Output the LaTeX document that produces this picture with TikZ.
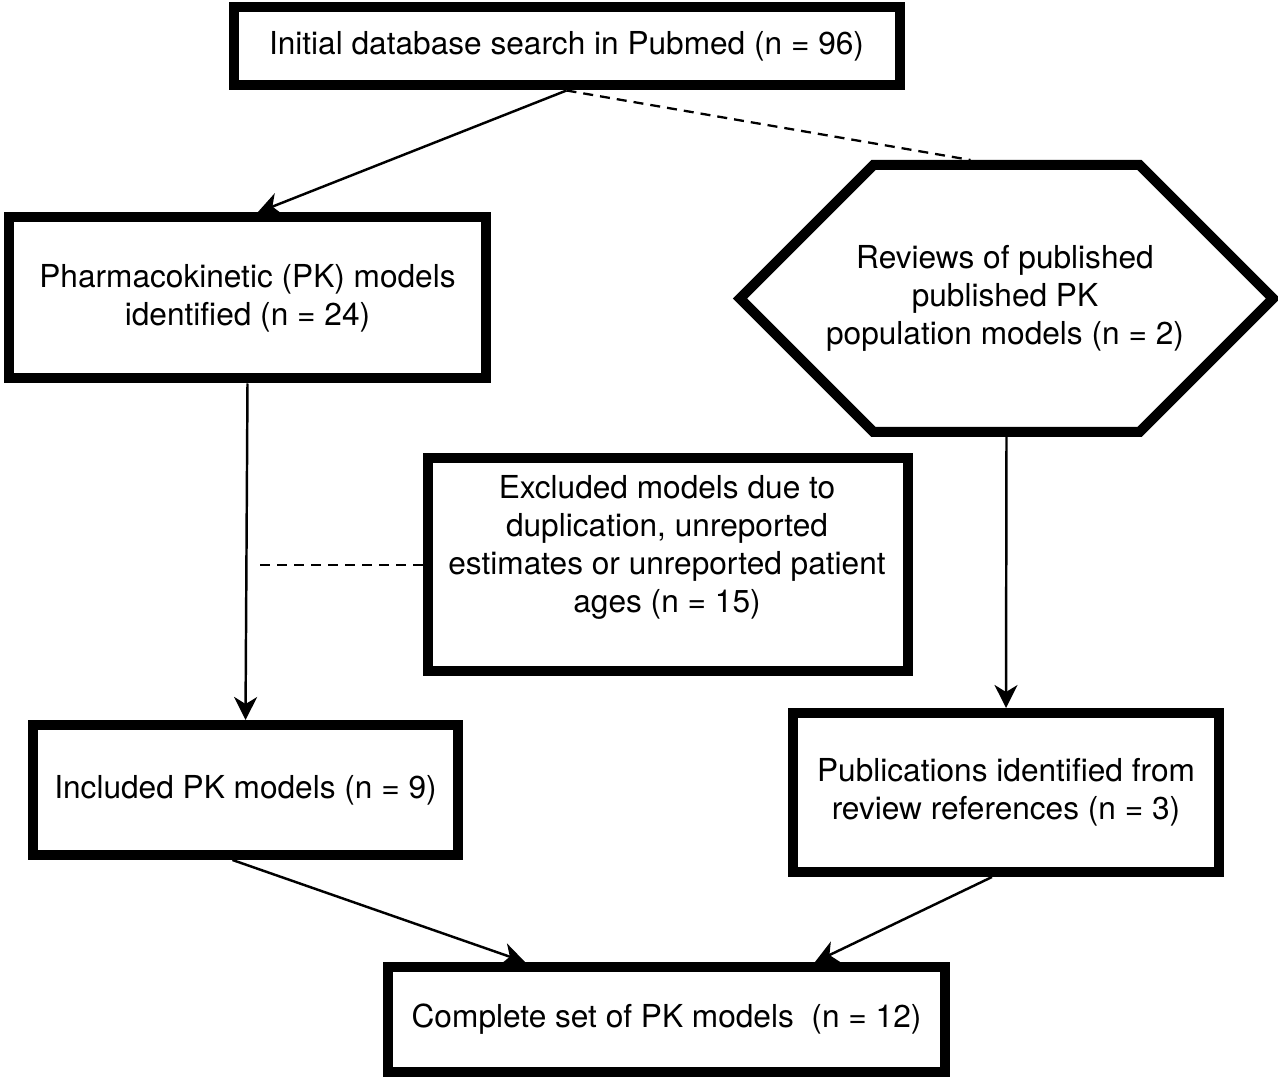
\documentclass[tikz,border=0pt]{standalone}
\usepackage{fontspec}
\setmainfont{TeX Gyre Heros}
\usepackage{tikz}
\usetikzlibrary{arrows.meta,shapes.symbols}

\begin{document}
\begin{tikzpicture}[
  box/.style={rectangle, draw, line width=0.2cm, inner sep=0pt, font=\fontsize{18}{21.6}\selectfont, align=center},
  hexa/.style={signal, signal to=west and east, signal pointer angle=90, draw, line width=0.2cm, inner sep=0pt},
  txt/.style={font=\fontsize{18}{21.6}\selectfont, align=center, inner sep=0pt},
  arr/.style={-{Stealth[length=0.46cm, width=0.46cm, inset=0.14cm]}, line width=1.4pt},
  dashline/.style={dash pattern=on 0.2cm off 0.14cm, line width=1.3pt}
]
\useasboundingbox (0,0) rectangle (25.56,-21.6);
\node[box, minimum width=13.32cm, minimum height=1.56cm] (top) at (11.33,-0.93) {Initial database search in Pubmed (n = 96)};
\node[box, minimum width=9.52cm, minimum height=3.22cm] (pk) at (4.95,-5.96) {Pharmacokinetic (PK) models\\identified (n = 24)};
\node[hexa, minimum width=10.66cm, minimum height=5.34cm] (rev) at (20.13,-5.97) {};
\node[txt] (revtext) at (20.10,-5.97) {Reviews of published\\published PK\\population models (n = 2)};
\node[box, minimum width=9.6cm, minimum height=4.26cm] (exc) at (13.35,-11.30) {};
\node[txt] (exctext) at (13.34,-10.94) {Excluded models due to\\duplication, unreported\\estimates or unreported patient\\ages (n = 15)};
\node[box, minimum width=8.5cm, minimum height=2.6cm] (inc) at (4.91,-15.80) {Included PK models (n = 9)};
\node[box, minimum width=8.52cm, minimum height=3.18cm] (pub) at (20.12,-15.85) {Publications identified from\\review references (n = 3)};
\node[box, minimum width=11.14cm, minimum height=2.1cm] (all) at (13.33,-20.39) {Complete set of PK models~ (n = 12)};
\coordinate (excend) at ([xshift=-3.34cm]exc.west);
\draw[arr] (top.south) -- ([xshift=0.2cm]pk.north);
\draw[dashline] (top.south) -- ([xshift=-0.72cm]rev.north);
\draw[arr] (pk.south) -- (inc.north);
\draw[dashline] (exc.west) -- (excend);
\draw[arr] (rev.south) -- (pub.north);
\draw[arr] ([xshift=-0.26cm]inc.south) -- ([xshift=-2.83cm]all.north);
\draw[arr] ([xshift=-0.28cm]pub.south) -- ([xshift=2.97cm]all.north);
\end{tikzpicture}
\end{document}
